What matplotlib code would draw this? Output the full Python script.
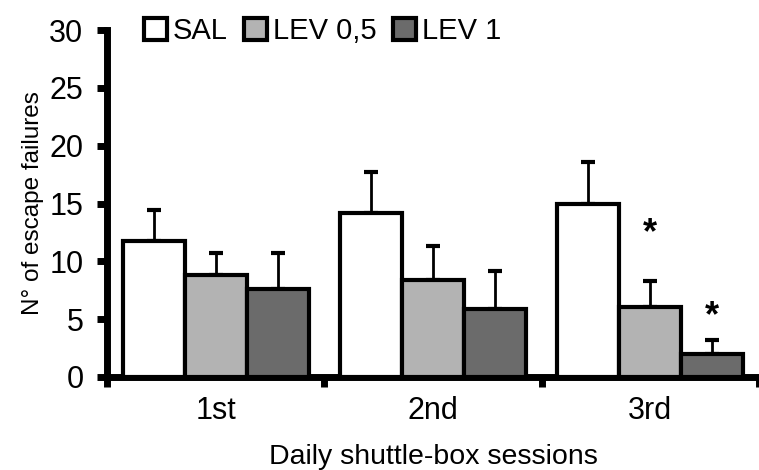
import matplotlib.pyplot as plt
import numpy as np
from matplotlib.patches import Patch

plt.rcParams['font.family'] = ['Liberation Sans', 'DejaVu Sans']

# --- data ---
sessions = ['1st', '2nd', '3rd']
groups = ['SAL', 'LEV 0,5', 'LEV 1']
sal = [11.75, 14.2, 15.0]
lev05 = [8.8, 8.4, 6.05]
lev1 = [7.6, 5.9, 2.0]
sal_err = [2.65, 3.5, 3.6]
lev05_err = [1.9, 2.9, 2.25]
lev1_err = [3.1, 3.3, 1.2]
# significance stars: group index, session index, height
star_group = [1, 2]
star_session = [2, 2]
star_y = [12.4, 5.2]

colors = ['white', '#b3b3b3', '#6b6b6b']
values = [sal, lev05, lev1]
errors = [sal_err, lev05_err, lev1_err]

fig = plt.figure(figsize=(7.59, 4.70), dpi=100)
ax = fig.add_axes([0.141, 0.198, 0.859, 0.738])

x = np.arange(len(sessions))
width = 0.285
offsets = [-width, 0, width]

for i in range(3):
    ax.bar(x + offsets[i], values[i], width, color=colors[i], edgecolor='black',
           linewidth=3, zorder=3)
    ax.errorbar(x + offsets[i], values[i], yerr=[np.zeros(3), errors[i]], fmt='none',
                ecolor='black', elinewidth=2, capsize=4.7, capthick=3, zorder=2)

for g, s, y in zip(star_group, star_session, star_y):
    ax.text(x[s] + offsets[g], y, '*', ha='center', va='center',
            fontsize=26, fontweight='bold')

ax.set_xlim(-0.5, 2.5)
ax.set_ylim(0, 30)
ax.set_yticks(range(0, 31, 5))
ax.tick_params(axis='y', labelsize=22, width=5, length=7, direction='out', pad=10)
ax.set_xticks(x)
ax.set_xticklabels(sessions, fontsize=22)
ax.tick_params(axis='x', which='major', length=0, pad=14)
ax.set_xticks([-0.5, 0.5, 1.5, 2.5], minor=True)
ax.tick_params(axis='x', which='minor', width=5, length=7, direction='out')

for side in ['top', 'right']:
    ax.spines[side].set_visible(False)
for side in ['left', 'bottom']:
    ax.spines[side].set_linewidth(5)

ax.set_ylabel('N° of escape failures', fontsize=17.5, labelpad=4)
ax.set_xlabel('Daily shuttle-box sessions', fontsize=20.5, labelpad=13)

handles = [Patch(facecolor=c, edgecolor='black', linewidth=3) for c in colors]
fig.legend(handles, groups, loc='upper left', bbox_to_anchor=(0.155, 1.02), ncol=3,
           frameon=False, fontsize=21, handlelength=0.8, handleheight=0.8,
           handletextpad=0.2, columnspacing=0.55)

fig.savefig('out.png', dpi=100)
